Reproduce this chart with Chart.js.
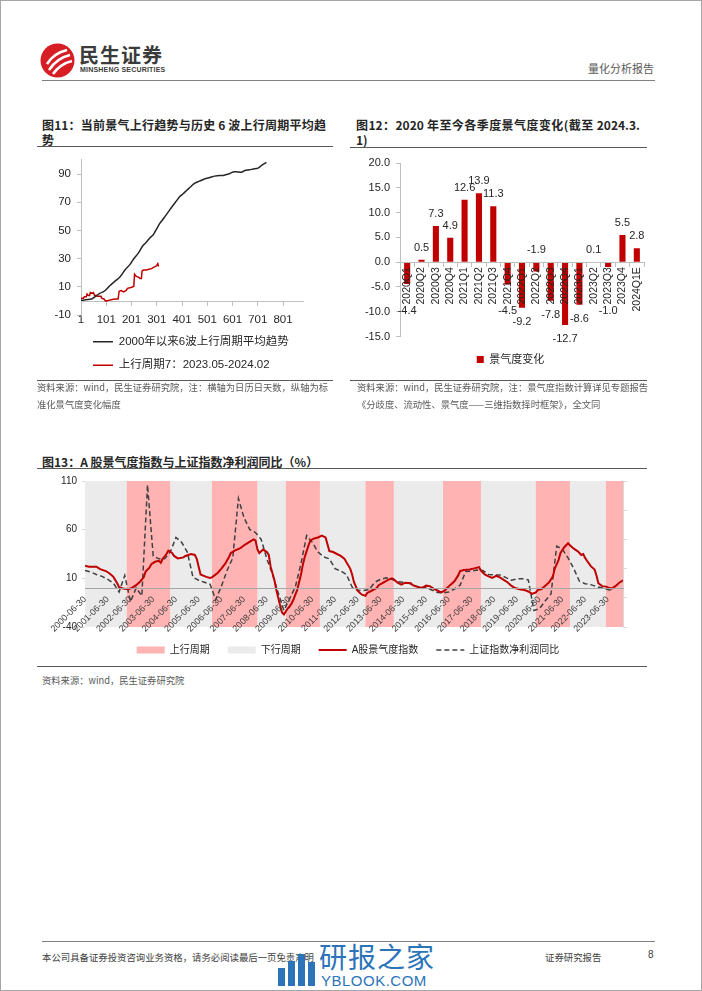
<!DOCTYPE html>
<html>
<head>
<meta charset="utf-8">
<title>量化分析报告</title>
<script src="https://cdn.jsdelivr.net/npm/chart.js@4.4.1/dist/chart.umd.min.js"></script>
<style>
  body { margin: 0; background: #fff; }
  #page { position: relative; width: 702px; height: 991px; overflow: hidden; font-family: "Noto Sans CJK SC", "Liberation Sans", sans-serif; color: #262626; }
  .frame { position: absolute; left: 0; top: 0; width: 700px; height: 989px; border: 1px solid #a6a6a6; }
  .t { position: absolute; white-space: nowrap; }
  .rule { position: absolute; height: 0; border-top: 1.3px solid #595959; }
  .title { font-size: 12px; font-weight: bold; line-height: 15px; color: #262626; }
  .jl { white-space: normal; text-align: justify; text-align-last: justify; }
  .src { font-size: 9.3px; line-height: 17px; color: #595959; }
  canvas { position: absolute; }
</style>
</head>
<body>
<div id="page">
  <div class="frame"></div>

  <!-- header -->
  <svg class="t" style="left:40px;top:43px" width="35" height="35" viewBox="0 0 35 35">
    <circle cx="17.5" cy="17.5" r="17" fill="#d81e25"/>
    <path d="M7 21 Q14 10 27 7" stroke="#fff" stroke-width="2.6" fill="none"/>
    <path d="M9 27 Q17 15 30 12" stroke="#fff" stroke-width="2.6" fill="none"/>
    <path d="M13 31 Q20 21 32 18" stroke="#fff" stroke-width="2.6" fill="none"/>
  </svg>
  <div class="t" style="left:79px;top:40px;font-size:20px;font-weight:bold;color:#3b3b3b;letter-spacing:1px">民生证券</div>
  <div class="t" style="left:80px;top:66px;font:bold 7px 'Liberation Sans';color:#3b3b3b;letter-spacing:0.2px">MINSHENG SECURITIES</div>
  <div class="t" style="left:588px;top:60px;font-size:11px;color:#595959">量化分析报告</div>
  <div class="rule" style="left:42px;top:80px;width:613px;border-color:#808080;border-top-width:1px"></div>

  <!-- 图11 -->
  <div class="t title" style="left:42px;top:117px;width:284px">
    <div class="jl">图11：当前景气上行趋势与历史 6 波上行周期平均趋</div>
    <div>势</div>
  </div>
  <div class="rule" style="left:37px;top:146px;width:296px"></div>
  <canvas id="c11" width="296" height="234" style="left:37px;top:147px"></canvas>
  <div class="rule" style="left:37px;top:380px;width:296px"></div>
  <div class="t src" style="left:37px;top:379px">
    <div>资料来源：wind，民生证券研究院，注：横轴为日历日天数，纵轴为标</div>
    <div>准化景气度变化幅度</div>
  </div>

  <!-- 图12 -->
  <div class="t title" style="left:356px;top:117px;width:284px">
    <div class="jl">图12：2020 年至今各季度景气度变化(截至 2024.3.</div>
    <div>1)</div>
  </div>
  <div class="rule" style="left:350px;top:147px;width:297px"></div>
  <canvas id="c12" width="321" height="225" style="left:350px;top:150px"></canvas>
  <div class="rule" style="left:350px;top:380px;width:297px"></div>
  <div class="t src" style="left:357px;top:379px">
    <div>资料来源：wind，民生证券研究院，注：景气度指数计算详见专题报告</div>
    <div>《分歧度、流动性、景气度——三维指数择时框架》，全文同</div>
  </div>

  <!-- 图13 -->
  <div class="t title" style="left:42px;top:454px">图13：A 股景气度指数与上证指数净利润同比（%）</div>
  <div class="rule" style="left:37px;top:468px;width:610px"></div>
  <canvas id="c13" width="622" height="195" style="left:37px;top:470px"></canvas>
  <div class="rule" style="left:37px;top:666px;width:610px"></div>
  <div class="t src" style="left:42px;top:672px">资料来源：wind，民生证券研究院</div>

  <!-- footer -->
  <div class="rule" style="left:42px;top:941px;width:613px;border-color:#808080;border-top-width:1px"></div>
  <div class="t" style="left:42px;top:950px;font-size:9.4px;color:#404040">本公司具备证券投资咨询业务资格，请务必阅读最后一页免责声明</div>
  <div class="t" style="left:545px;top:950px;font-size:9.4px;color:#404040">证券研究报告</div>
  <div class="t" style="left:648px;top:949px;font:10px 'Liberation Sans';color:#404040">8</div>
  <div class="t" style="left:278px;top:968px;width:7px;height:18px;background:#2b74b9"></div>
  <div class="t" style="left:288px;top:961px;width:7px;height:25px;background:#2b74b9"></div>
  <div class="t" style="left:298px;top:954px;width:7px;height:32px;background:#2b74b9"></div>
  <div class="t" style="left:308px;top:962px;width:7px;height:24px;background:#2b74b9"></div>
  <div class="t" style="left:319px;top:936px;font-size:28px;color:#2b74b9;letter-spacing:1px">研报之家</div>
  <div class="t" style="left:321px;top:972px;font:15px 'Liberation Sans';color:#2b74b9;letter-spacing:0.5px">YBLOOK.COM</div>
</div>

<script>
// ---------- 图11：上行周期趋势（横轴为日历日天数） ----------
const dayTicks = [1, 101, 201, 301, 401, 501, 601, 701, 801];
const levelTicks = [-10, 10, 30, 50, 70, 90];
const trendDays   = [1, 20, 43, 60, 75, 89, 100, 116, 135, 155, 175, 195, 210, 228, 245, 261, 275, 287, 300, 313,
                     330, 346, 362, 379, 392, 405, 420, 435, 452, 470, 490, 511, 530, 551, 564, 585, 603, 620, 636, 650,
                     669, 682, 702, 715, 735];
const trendValues = [0.5, 1, 1.5, 3.5, 5.5, 6.5, 8, 11, 14, 17, 22, 26, 30, 34, 39, 42, 45, 47, 51, 55,
                     59, 63, 67, 71, 74, 76, 78.5, 81, 83.5, 85, 86.5, 87.5, 88.5, 89, 89, 90, 91.5, 91.5, 91.3, 92.5,
                     93, 93.5, 94.2, 96, 98.2];
const cycleDays   = [1, 10, 15, 22, 25, 30, 35, 38, 45, 50, 55, 62, 65, 80, 83, 92, 96, 100, 110, 120,
                     135, 148, 152, 160, 170, 180, 185, 195, 205, 210, 213, 220, 228, 235, 240, 243, 250, 260, 270, 280,
                     290, 300, 305, 308];
const cycleValues = [2, 2, 3, 3, 5, 4, 4, 6, 5.5, 6, 4, 4, 3.5, 3.5, 2, 1.5, 0.5, 0, 0.5, 1,
                     1.5, 1.5, 7, 7.5, 6.5, 7.5, 9, 9.5, 10, 10.5, 19, 17.5, 17, 16, 16, 21.5, 22, 22, 22.5, 23,
                     24, 25, 26.5, 24.5];

// ---------- 图12：各季度景气度变化 ----------
const quarters = ['2020Q1', '2020Q2', '2020Q3', '2020Q4', '2021Q1', '2021Q2', '2021Q3', '2021Q4', '2022Q1',
                  '2022Q2', '2022Q3', '2022Q4', '2023Q1', '2023Q2', '2023Q3', '2023Q4', '2024Q1E'];
const changeValues = [-4.4, 0.5, 7.3, 4.9, 12.6, 13.9, 11.3, -4.5, -9.2, -1.9, -7.8, -12.7, -8.6, 0.1, -1.0, 5.5, 2.8];

// ---------- 图13：A股景气度指数与上证指数净利润同比 ----------
const yearTicks = ['2000-06-30', '2001-06-30', '2002-06-30', '2003-06-30', '2004-06-30', '2005-06-30', '2006-06-30',
                   '2007-06-30', '2008-06-30', '2009-06-30', '2010-06-30', '2011-06-30', '2012-06-30', '2013-06-30',
                   '2014-06-30', '2015-06-30', '2016-06-30', '2017-06-30', '2018-06-30', '2019-06-30', '2020-06-30',
                   '2021-06-30', '2022-06-30', '2023-06-30'];
const pctTicks = [-40, 10, 60, 110];
const upStarts = ['2002-04', '2006-01', '2009-04', '2012-10', '2016-03', '2020-04', '2023-05'];
const upEnds   = ['2004-03', '2008-01', '2010-10', '2014-01', '2017-11', '2021-10', '2024-02'];

const indexDates = [
  '2000-06', '2000-08', '2000-12', '2001-02', '2001-05', '2001-07', '2001-09', '2001-11', '2001-12',
  '2002-02', '2002-05', '2002-07', '2002-09', '2002-11',
  '2003-01', '2003-02', '2003-04', '2003-05', '2003-07', '2003-09', '2003-10', '2003-11',
  '2004-01', '2004-02', '2004-04', '2004-05', '2004-07', '2004-10', '2004-11',
  '2005-02', '2005-04', '2005-05', '2005-06', '2005-07', '2005-10', '2005-12',
  '2006-01', '2006-02', '2006-04', '2006-06', '2006-08', '2006-10', '2006-11',
  '2007-01', '2007-04', '2007-06', '2007-08', '2007-11', '2007-12',
  '2008-01', '2008-02', '2008-04', '2008-06', '2008-07', '2008-08', '2008-09', '2008-10', '2008-11', '2008-12',
  '2009-01', '2009-02', '2009-03', '2009-05', '2009-06', '2009-07', '2009-08', '2009-09', '2009-10', '2009-11', '2009-12',
  '2010-01', '2010-02', '2010-03', '2010-04', '2010-05', '2010-07', '2010-09', '2010-11',
  '2011-01', '2011-02', '2011-03', '2011-05', '2011-07', '2011-09', '2011-11', '2011-12',
  '2012-02', '2012-03', '2012-04', '2012-06', '2012-08', '2012-10', '2012-11',
  '2013-01', '2013-04', '2013-05', '2013-07', '2013-10', '2013-12',
  '2014-01', '2014-03', '2014-05', '2014-07', '2014-10', '2014-11',
  '2015-01', '2015-04', '2015-06', '2015-08', '2015-10', '2015-12',
  '2016-02', '2016-04', '2016-05', '2016-07', '2016-09', '2016-11', '2016-12',
  '2017-02', '2017-05', '2017-07', '2017-10', '2017-11',
  '2018-01', '2018-03', '2018-05', '2018-07', '2018-09', '2018-11',
  '2019-01', '2019-03', '2019-05', '2019-08', '2019-10', '2019-12',
  '2020-02', '2020-04', '2020-05', '2020-07', '2020-09', '2020-11',
  '2021-01', '2021-02', '2021-04', '2021-05', '2021-07', '2021-09', '2021-10', '2021-12',
  '2022-02', '2022-04', '2022-05', '2022-06', '2022-07', '2022-09', '2022-11', '2022-12',
  '2023-01', '2023-03', '2023-05', '2023-07', '2023-08', '2023-10', '2023-12',
  '2024-02'];
const indexValues = [
  23, 22, 22, 19.5, 17.5, 15, 11.5, 5, 1,
  -0.5, -1.2, 0.5, 3, 6.5,
  11, 17, 21, 24.5, 27, 28, 26, 30,
  35, 38.5, 36, 33, 30.5, 31.5, 33,
  35, 34, 30, 22, 14, 11.5, 10.5,
  11, 12.5, 15.5, 20, 25, 32, 36,
  38.5, 41, 44, 46.5, 50, 49,
  40, 36, 39.5, 37, 34, 22, 15, 8, -2, -10,
  -18, -25, -27, -21, -19, -16, -12, -7, -2, 6, 14,
  24, 32, 38, 44, 49, 51, 52, 54,
  52, 45, 38, 37, 35, 33, 30, 26.5,
  20, 14, 6, -3, -6.5, -8, -5,
  -3, 0, 3, 5, 8.5, 10,
  9, 5.5, 3.5, 5.5, 5, 3,
  1.5, 0, 2.5, 2, -0.5, -2.5,
  -4.5, -2.5, 0, 3.5, 7, 13, 17.5,
  18.5, 19, 20, 21.5, 18,
  14, 12, 10.5, 12.5, 11, 8.5,
  6, 2.5, 0, -1.5, -2, -3.5,
  -6, -4.5, -2, -1, 2.5, 6,
  12, 20, 29, 36, 42, 46, 44, 40.5,
  38, 34, 35, 31, 28, 22.5, 19, 13,
  5, 2, 1.5, 0, -0.5, 2, 5.5,
  8];

const profitDates = [
  '2000-06', '2000-09', '2000-12',
  '2001-03', '2001-06', '2001-09', '2001-12', '2002-03', '2002-06', '2002-09', '2002-12',
  '2003-03', '2003-06', '2003-09', '2003-12', '2004-03', '2004-06', '2004-09', '2004-12',
  '2005-03', '2005-06', '2005-09', '2005-12', '2006-03', '2006-06', '2006-09', '2006-12',
  '2007-03', '2007-06', '2007-09', '2007-12', '2008-03', '2008-06', '2008-09', '2008-12',
  '2009-03', '2009-06', '2009-09', '2009-12', '2010-03', '2010-06', '2010-09', '2010-12',
  '2011-03', '2011-06', '2011-09', '2011-12', '2012-03', '2012-06', '2012-09', '2012-12',
  '2013-03', '2013-06', '2013-09', '2013-12', '2014-03', '2014-06', '2014-09', '2014-12',
  '2015-03', '2015-06', '2015-09', '2015-12', '2016-03', '2016-06', '2016-09', '2016-12',
  '2017-03', '2017-06', '2017-09', '2017-12', '2018-03', '2018-06', '2018-09', '2018-12',
  '2019-03', '2019-06', '2019-09', '2019-12', '2020-03', '2020-06', '2020-09', '2020-12',
  '2021-03', '2021-06', '2021-09', '2021-12', '2022-03', '2022-06', '2022-09', '2022-12',
  '2023-03', '2023-06', '2023-09'];
const profitValues = [
  18, 16.5, 14,
  12, 9, 5, -4, 13, -14, 0, -8,
  106, 33, 30, 30, 37, 52, 47, 37,
  11, 8, 6, 4, -12, 2, 18, 31,
  92, 72, 60, 57, 50, 30, 14, -5,
  -23, -11, 1, 25, 54, 47, 37, 32,
  30, 20, 17.5, 14, 1, -2.5, -2.6, -1.5,
  6, 9, 10.5, 9, 6.5, 6, 5, 2.5,
  0.8, 0.8, -2, -4.5, -5, -4, -1, 3,
  17, 17.5, 18.5, 18, 14, 13.5, 13.5, 11,
  8, 9.5, 9.5, 8.5, -23, -21, -13, -6,
  43, 40, 31, 20, 7, 4.5, 3.5, 1.5,
  0, -1.5, -3];

// 'YYYY-MM' 视为月末，换成小数年份
function toYear(s) {
  const p = s.split('-').map(Number);
  return p[0] + p[1] / 12;
}
function pts(xs, ys) {
  return xs.map((x, i) => ({ x: typeof x === 'string' ? toYear(x) : x, y: ys[i] }));
}
function fixTicks(list) {
  return function (scale) { scale.ticks = list.map(v => ({ value: v })); };
}

Chart.defaults.font.family = '"Liberation Sans", "Noto Sans CJK SC", sans-serif';
Chart.defaults.color = '#262626';
Chart.defaults.animation = false;
Chart.defaults.plugins.tooltip.enabled = false;

const axisGrey = '#bfbfbf';

// ---------- 图11 ----------
new Chart(document.getElementById('c11'), {
  type: 'line',
  data: {
    datasets: [
      {
        label: '2000年以来6波上行周期平均趋势',
        data: pts(trendDays, trendValues),
        borderColor: '#262626',
        backgroundColor: '#262626',
        borderWidth: 1.5,
        pointRadius: 0,
        pointStyle: 'line',
        tension: 0.3
      },
      {
        label: '上行周期7：2023.05-2024.02',
        data: pts(cycleDays, cycleValues),
        borderColor: '#c00000',
        backgroundColor: '#c00000',
        borderWidth: 1.5,
        pointRadius: 0,
        pointStyle: 'line'
      }
    ]
  },
  options: {
    responsive: false,
    layout: { padding: { top: 7, right: 30, left: 0, bottom: 0 } },
    plugins: {
      legend: {
        position: 'bottom',
        align: 'start',
        fullSize: false,
        labels: { usePointStyle: true, pointStyleWidth: 20, boxWidth: 20, padding: 12, font: { size: 11.5 } }
      }
    },
    scales: {
      x: {
        type: 'linear', min: 1, max: 880,
        afterBuildTicks: fixTicks(dayTicks),
        grid: { display: false, drawTicks: false },
        border: { display: false },
        ticks: { padding: -2.5, font: { size: 11.5 } }
      },
      // 零值处的横轴线和刻度
      x0: {
        type: 'linear', min: 1, max: 880, position: { y: 0 },
        afterBuildTicks: fixTicks(dayTicks),
        ticks: { display: false },
        grid: { drawOnChartArea: false, tickLength: 4, color: axisGrey },
        border: { color: axisGrey }
      },
      y: {
        min: -10, max: 100,
        afterBuildTicks: fixTicks(levelTicks),
        afterFit: s => { s.width = 44; },
        grid: { drawOnChartArea: false, tickLength: 4, color: axisGrey },
        border: { color: axisGrey },
        ticks: { padding: 6, font: { size: 11.5 } }
      }
    }
  }
});

// ---------- 图12 ----------
const barValueLabels = {
  id: 'barValueLabels',
  afterDatasetsDraw(chart) {
    const ctx = chart.ctx;
    const zero = chart.scales.y.getPixelForValue(0);
    ctx.save();
    ctx.font = '11px "Liberation Sans"';
    ctx.fillStyle = '#262626';
    ctx.textAlign = 'center';
    ctx.textBaseline = 'middle';
    chart.getDatasetMeta(0).data.forEach((bar, i) => {
      const v = changeValues[i];
      let ty;
      if (v >= 0 || quarters[i] === '2022Q2') ty = Math.min(bar.y, zero) - 12;
      else ty = Math.max(bar.y + 14, zero + 49);
      ctx.fillText(v.toFixed(1), bar.x, ty);
    });
    ctx.restore();
  }
};

new Chart(document.getElementById('c12'), {
  type: 'bar',
  data: {
    labels: quarters,
    datasets: [{
      label: '景气度变化',
      data: changeValues,
      backgroundColor: '#c00000',
      barPercentage: 0.5,
      categoryPercentage: 0.85
    }]
  },
  options: {
    responsive: false,
    layout: { padding: { top: 13, right: 0, left: 0, bottom: 0 } },
    plugins: {
      legend: {
        position: 'bottom',
        labels: { boxWidth: 7, boxHeight: 7, padding: 17.5, font: { size: 11 } }
      }
    },
    scales: {
      x: {
        position: { y: 0 },
        grid: { drawOnChartArea: false, tickLength: 4, color: axisGrey, offset: true },
        border: { color: axisGrey, z: 1 },
        ticks: { z: 1, minRotation: 90, maxRotation: 90, autoSkip: false, padding: 1, font: { size: 10.5 } }
      },
      y: {
        min: -15, max: 20,
        ticks: { stepSize: 5, callback: v => v.toFixed(1), padding: 6, font: { size: 11 } },
        grid: { drawOnChartArea: false, tickLength: 4, color: axisGrey },
        border: { color: axisGrey },
        afterFit: s => { s.width = 50; }
      },
      yr: {
        position: 'right',
        grid: { display: false, drawTicks: false },
        border: { display: false },
        ticks: { display: false },
        afterFit: s => { s.width = 27; }
      }
    }
  },
  plugins: [barValueLabels]
});

// ---------- 图13 ----------
const xMin = toYear('2000-06');
const xMax = toYear(upEnds[upEnds.length - 1]);
const upBand = [{ x: xMin, y: 0 }];
upStarts.forEach((s, i) => {
  upBand.push({ x: toYear(s), y: 1 }, { x: toYear(upEnds[i]), y: 0 });
});
const downBand = upBand.map(p => ({ x: p.x, y: 1 - p.y }));
const legendRank = [2, 3, 0, 1];

new Chart(document.getElementById('c13'), {
  type: 'line',
  data: {
    datasets: [
      {
        label: 'A股景气度指数',
        data: pts(indexDates, indexValues),
        borderColor: '#c00000',
        backgroundColor: '#c00000',
        borderWidth: 2,
        pointRadius: 0,
        pointStyle: 'line'
      },
      {
        label: '上证指数净利润同比',
        data: pts(profitDates, profitValues),
        borderColor: '#404040',
        backgroundColor: '#404040',
        borderWidth: 1.5,
        borderDash: [5, 3],
        pointRadius: 0,
        pointStyle: 'line'
      },
      {
        label: '上行周期',
        data: upBand,
        yAxisID: 'y2',
        stepped: true,
        fill: 'origin',
        backgroundColor: '#ffb3b3',
        borderColor: 'rgba(0,0,0,0)',
        borderWidth: 0,
        pointRadius: 0,
        pointStyle: 'rect'
      },
      {
        label: '下行周期',
        data: downBand,
        yAxisID: 'y2',
        stepped: true,
        fill: 'origin',
        backgroundColor: '#ebebeb',
        borderColor: 'rgba(0,0,0,0)',
        borderWidth: 0,
        pointRadius: 0,
        pointStyle: 'rect'
      }
    ]
  },
  options: {
    responsive: false,
    layout: { padding: { top: 11, right: 0, left: 0, bottom: 0 } },
    plugins: {
      legend: {
        position: 'bottom',
        labels: {
          usePointStyle: true, pointStyleWidth: 28, boxWidth: 28, boxHeight: 7, padding: 18,
          font: { size: 10 },
          sort: (a, b) => legendRank[a.datasetIndex] - legendRank[b.datasetIndex],
          generateLabels(chart) {
            const items = Chart.defaults.plugins.legend.labels.generateLabels(chart);
            items.forEach(it => {
              const ds = chart.data.datasets[it.datasetIndex];
              it.lineDash = ds.borderDash || [];
              it.lineWidth = ds.borderWidth;
            });
            return items;
          }
        }
      }
    },
    scales: {
      x: {
        type: 'linear', min: xMin, max: xMax,
        position: { y: 0 },
        afterBuildTicks: s => { s.ticks = yearTicks.map(d => ({ value: toYear(d) })); },
        grid: { display: false, drawTicks: false },
        border: { color: '#a6a6a6', z: 1 },
        ticks: {
          z: 1, minRotation: 45, maxRotation: 45, autoSkip: false, padding: 6,
          callback: (v, i) => yearTicks[i],
          font: { size: 9 }, color: '#404040'
        }
      },
      y: {
        min: -40, max: 110,
        afterBuildTicks: fixTicks(pctTicks),
        afterFit: s => { s.width = 48; },
        grid: { drawOnChartArea: false, tickLength: 3, color: '#d9d9d9' },
        border: { display: false },
        ticks: { padding: 5, font: { size: 10 } }
      },
      y2: {
        position: 'right', min: 0, max: 1,
        ticks: { display: false, stepSize: 0.2 },
        grid: { drawOnChartArea: false, tickLength: 4, color: '#d9d9d9' },
        border: { color: '#d9d9d9' },
        afterFit: s => { s.width = 36; }
      }
    }
  }
});
</script>
</body>
</html>
